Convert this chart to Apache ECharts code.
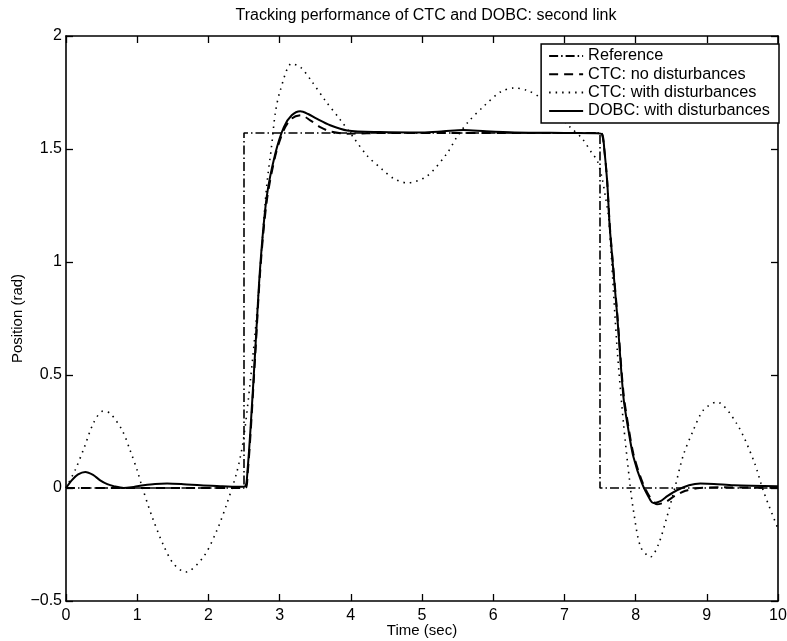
<!DOCTYPE html>
<html>
<head>
<meta charset="utf-8">
<script src="https://cdn.jsdelivr.net/npm/echarts@6/dist/echarts.min.js"></script>
<style>html,body{margin:0;padding:0;background:#fff}#c{width:787px;height:641px}</style>
</head>
<body>
<div id="c"></div>
<script>
// ---- Data ----
const xTicks = [0,1,2,3,4,5,6,7,8,9,10];
const yTicks = [-0.5,0,0.5,1,1.5,2];

const refT = [0, 2.5, 2.5, 7.5, 7.5, 10];
const refV = [0, 0, 1.5708, 1.5708, 0, 0];

const ctcNoT = [0, 2.52, 2.55, 2.59, 2.66, 2.73, 2.82, 2.94, 3.06, 3.17, 3.30, 3.43, 3.57, 3.71, 3.95, 4.5, 7.5, 7.53, 7.56, 7.60, 7.64, 7.74, 7.83, 7.90, 7.97, 8.09, 8.20, 8.30, 8.42, 8.55, 8.70, 8.90, 9.20, 10];
const ctcNoV = [0, 0, 0.06, 0.23, 0.60, 0.97, 1.27, 1.47, 1.585, 1.635, 1.649, 1.627, 1.597, 1.578, 1.568, 1.5708, 1.5708, 1.565, 1.50, 1.36, 1.15, 0.78, 0.42, 0.27, 0.15, 0.03, -0.04, -0.072, -0.062, -0.035, -0.012, 0, 0.003, 0];

const ctcDistT = [0, 0.13, 0.25, 0.39, 0.52, 0.62, 0.79, 0.90, 1.0, 1.07, 1.21, 1.37, 1.51, 1.68, 1.93, 2.12, 2.26, 2.40, 2.49, 2.59, 2.68, 2.75, 2.82, 2.89, 2.94, 3.01, 3.17, 3.30, 3.45, 3.64, 3.85, 4.04, 4.23, 4.44, 4.60, 4.79, 5.07, 5.35, 5.49, 5.65, 5.87, 6.10, 6.29, 6.47, 6.65, 6.85, 7.08, 7.25, 7.39, 7.46, 7.53, 7.575, 7.62, 7.66, 7.74, 7.83, 7.92, 7.97, 8.07, 8.21, 8.32, 8.44, 8.56, 8.67, 8.81, 8.95, 9.14, 9.42, 9.66, 9.80, 10];
const ctcDistV = [0, 0.08, 0.174, 0.29, 0.34, 0.33, 0.255, 0.167, 0.078, 0.004, -0.128, -0.254, -0.335, -0.372, -0.305, -0.187, -0.069, 0.071, 0.21, 0.477, 0.77, 1.066, 1.34, 1.52, 1.66, 1.76, 1.878, 1.86, 1.80, 1.715, 1.63, 1.55, 1.47, 1.41, 1.37, 1.35, 1.38, 1.48, 1.553, 1.62, 1.69, 1.752, 1.77, 1.76, 1.73, 1.67, 1.597, 1.546, 1.48, 1.45, 1.37, 1.29, 1.20, 1.02, 0.62, 0.285, 0.02, -0.10, -0.26, -0.305, -0.25, -0.128, 0.012, 0.145, 0.255, 0.344, 0.38, 0.285, 0.12, -0.018, -0.18];

const dobcT = [0, 0.08, 0.17, 0.27, 0.38, 0.48, 0.58, 0.67, 0.81, 0.95, 1.09, 1.25, 1.42, 1.65, 1.89, 2.2, 2.45, 2.52, 2.55, 2.59, 2.66, 2.73, 2.82, 2.94, 3.06, 3.17, 3.29, 3.40, 3.52, 3.71, 3.95, 4.41, 5.0, 5.3, 5.58, 5.9, 6.3, 7.0, 7.45, 7.53, 7.56, 7.60, 7.64, 7.74, 7.83, 7.90, 7.97, 8.09, 8.21, 8.25, 8.35, 8.45, 8.58, 8.75, 8.91, 9.1, 9.38, 10];
const dobcV = [0, 0.034, 0.06, 0.071, 0.058, 0.034, 0.017, 0.008, 0.0, 0.005, 0.012, 0.018, 0.02, 0.017, 0.012, 0.008, 0.005, 0.008, 0.08, 0.255, 0.62, 0.99, 1.29, 1.48, 1.597, 1.649, 1.667, 1.655, 1.634, 1.605, 1.582, 1.575, 1.573, 1.578, 1.584, 1.578, 1.573, 1.571, 1.57, 1.565, 1.50, 1.36, 1.14, 0.77, 0.40, 0.255, 0.137, 0.02, -0.055, -0.066, -0.058, -0.035, -0.01, 0.012, 0.02, 0.018, 0.012, 0.008];

const seriesNames = ['Reference', 'CTC: no disturbances', 'CTC: with disturbances', 'DOBC: with disturbances'];

function zip(t, v) { return t.map((x, i) => [x, v[i]]); }

const FONT = 'Liberation Sans, Arial, Helvetica, sans-serif';
const chart = echarts.init(document.getElementById('c'), null, {renderer: 'canvas'});

const tickCommon = {show: true, inside: true, length: 7, lineStyle: {color: '#000', width: 1.3}};
const lineCommon = {show: true, onZero: false, lineStyle: {color: '#000', width: 1.6}};

const option = {
  backgroundColor: '#fff',
  animation: false,
  color: ['#000', '#000', '#000', '#000'],
  title: {
    text: 'Tracking performance of CTC and DOBC: second link',
    left: 421, top: 3, textAlign: 'center',
    textStyle: {fontFamily: FONT, fontSize: 16, fontWeight: 'normal', color: '#000'}
  },
  grid: {left: 66, right: 9, top: 36, bottom: 40, containLabel: false, outerBoundsMode: 'none'},
  legend: {
    orient: 'vertical', right: 8, top: 44,
    backgroundColor: '#fff', borderColor: '#000', borderWidth: 1.5,
    padding: [4, 9, 4, 7], itemGap: 2.3, itemWidth: 34, itemHeight: 14,
    itemStyle: {opacity: 0, borderWidth: 0},
    textStyle: {fontFamily: FONT, fontSize: 16.3, color: '#000'},
    data: seriesNames
  },
  xAxis: [
    {type: 'value', position: 'bottom', min: 0, max: 10, interval: 1,
     name: 'Time (sec)', nameLocation: 'middle', nameGap: 22, nameMoveOverlap: false,
     nameTextStyle: {fontFamily: FONT, fontSize: 15, color: '#000'},
     axisLine: lineCommon, axisTick: tickCommon, splitLine: {show: false},
     axisLabel: {fontFamily: FONT, fontSize: 16, color: '#000', margin: 7}},
    {type: 'value', position: 'top', min: 0, max: 10, interval: 1,
     axisLine: lineCommon, axisTick: tickCommon, splitLine: {show: false},
     axisLabel: {show: false}}
  ],
  yAxis: [
    {type: 'value', position: 'left', min: -0.5, max: 2, interval: 0.5,
     name: 'Position (rad)', nameLocation: 'middle', nameGap: 41, nameMoveOverlap: false,
     nameTextStyle: {fontFamily: FONT, fontSize: 15, color: '#000'},
     axisLine: lineCommon, axisTick: tickCommon, splitLine: {show: false},
     axisLabel: {fontFamily: FONT, fontSize: 16, color: '#000', margin: 4,
       formatter: v => (v < 0 ? '\u2212' + String(-v) : String(v))}},
    {type: 'value', position: 'right', min: -0.5, max: 2, interval: 0.5,
     axisLine: lineCommon, axisTick: tickCommon, splitLine: {show: false},
     axisLabel: {show: false}}
  ],
  series: [
    {name: seriesNames[0], type: 'line', symbol: 'none', data: zip(refT, refV),
     lineStyle: {color: '#000', width: 1.6, type: [9, 3, 1.5, 3]}, z: 2},
    {name: seriesNames[1], type: 'line', symbol: 'none', smooth: 0.3, data: zip(ctcNoT, ctcNoV),
     lineStyle: {color: '#000', width: 2, type: [9, 6]}, z: 3},
    {name: seriesNames[2], type: 'line', symbol: 'none', smooth: 0.3, data: zip(ctcDistT, ctcDistV),
     lineStyle: {color: '#000', width: 1.6, type: [1.5, 5]}, z: 2},
    {name: seriesNames[3], type: 'line', symbol: 'none', smooth: 0.3, data: zip(dobcT, dobcV),
     lineStyle: {color: '#000', width: 2, type: 'solid'}, z: 4}
  ]
};
chart.setOption(option);
</script>
</body>
</html>
